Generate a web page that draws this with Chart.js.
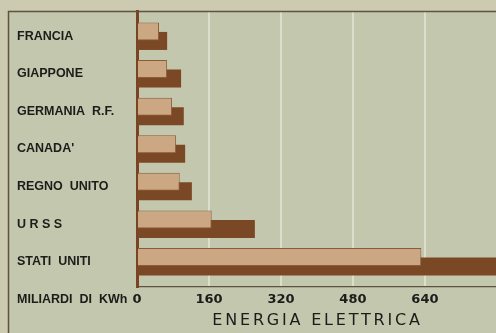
<!DOCTYPE html>
<html lang="it">
<head>
<meta charset="utf-8">
<title>Energia elettrica</title>
<script src="https://cdn.jsdelivr.net/npm/chart.js@4.4.1/dist/chart.umd.min.js"></script>
<style>
  html, body { margin: 0; padding: 0; background: #cccbb1; }
  canvas { display: block; }
</style>
</head>
<body>
<canvas id="grafico" width="496" height="333"></canvas>
<script>
// produzione di energia elettrica, in miliardi di kWh
const paesi = ["FRANCIA", "GIAPPONE", "GERMANIA  R.F.", "CANADA'", "REGNO  UNITO", "U R S S", "STATI  UNITI"];
const valoriChiari = [49, 67, 78, 87, 95, 166, 632];
const valoriScuri = [67, 98, 104, 107, 122, 262, 845];
const tacche = [0, 160, 320, 480, 640];
const titolo = "ENERGIA ELETTRICA";
const unita = "MILIARDI  DI  KWh";

const colori = {
  carta: "#cccbb1",
  fondo: "#c3c7ad",
  griglia: "#dcdecc",
  chiaro: "#cba883",
  bordoChiaro: "#8c5c36",
  scuro: "#7b4826",
  asse: "#7a4422",
  linea: "#5e5240",
  testo: "#1c1c1a",
};

const fontEtichette = "bold 12.5px 'Liberation Sans', Arial, sans-serif";

// cornice stampata, titolo e unità di misura
const cornice = {
  id: "cornice",
  beforeDraw(chart) {
    const { ctx, width, height } = chart;
    ctx.save();
    ctx.fillStyle = colori.carta;
    ctx.fillRect(0, 0, width, height);
    ctx.fillStyle = colori.fondo;
    ctx.fillRect(8, 11, width - 8, height - 11);
    ctx.restore();
  },
  afterDraw(chart) {
    const { ctx, width, height, chartArea } = chart;
    ctx.save();
    ctx.strokeStyle = colori.linea;
    ctx.lineWidth = 1.5;
    ctx.beginPath();
    ctx.moveTo(8, 11.5);
    ctx.lineTo(width, 11.5);
    ctx.moveTo(8.5, 11);
    ctx.lineTo(8.5, height);
    ctx.stroke();

    ctx.fillStyle = colori.testo;
    ctx.textBaseline = "middle";
    ctx.textAlign = "left";
    ctx.font = fontEtichette;
    ctx.fillText(unita, 17, 300);

    ctx.font = "16px 'DejaVu Sans', sans-serif";
    ctx.letterSpacing = "2.8px";
    ctx.textAlign = "center";
    ctx.fillText(titolo, (chartArea.left + chartArea.right) / 2 + 1, 321);
    ctx.restore();
  },
};

const ctx = document.getElementById("grafico").getContext("2d");
new Chart(ctx, {
  type: "bar",
  data: {
    datasets: [
      {
        label: "chiaro",
        data: valoriChiari.map((v, i) => ({ x: v, y: i })),
        backgroundColor: colori.chiaro,
        borderColor: colori.bordoChiaro,
        borderWidth: 1,
        categoryPercentage: 0.505,
        barPercentage: 1.9,
      },
      {
        label: "scuro",
        data: valoriScuri.map((v, i) => ({ x: v, y: i })),
        backgroundColor: colori.scuro,
        borderWidth: 0,
        categoryPercentage: 0.505,
        barPercentage: 1.9,
      },
    ],
  },
  options: {
    indexAxis: "y",
    responsive: false,
    animation: false,
    devicePixelRatio: 1,
    layout: { padding: { top: 11, left: 17, right: 0, bottom: 0 } },
    plugins: {
      legend: { display: false },
      tooltip: { enabled: false },
    },
    scales: {
      x: {
        type: "linear",
        min: 0,
        max: 798,
        afterBuildTicks: (scale) => {
          scale.ticks = tacche.map((v) => ({ value: v }));
        },
        afterFit: (scale) => {
          scale.height = 46;
        },
        grid: { color: colori.griglia, lineWidth: 2, drawTicks: false },
        border: { color: colori.linea, width: 1.2 },
        ticks: {
          padding: 5,
          color: colori.testo,
          font: { family: "'DejaVu Sans'", size: 13, weight: "bold" },
          maxRotation: 0,
        },
      },
      y: {
        type: "linear",
        reverse: true,
        offset: false,
        min: -0.67,
        max: 6.67,
        afterBuildTicks: (scale) => {
          scale.ticks = paesi.map((p, i) => ({ value: i }));
        },
        afterFit: (scale) => {
          scale.width = 120;
        },
        grid: { display: false, drawTicks: false, offset: false },
        border: { color: colori.asse, width: 3 },
        ticks: {
          crossAlign: "far",
          padding: 0,
          color: colori.testo,
          font: { family: "'Liberation Sans'", size: 12.5, weight: "bold" },
          callback: (v) => paesi[v],
        },
      },
    },
  },
  plugins: [cornice],
});
</script>
</body>
</html>
